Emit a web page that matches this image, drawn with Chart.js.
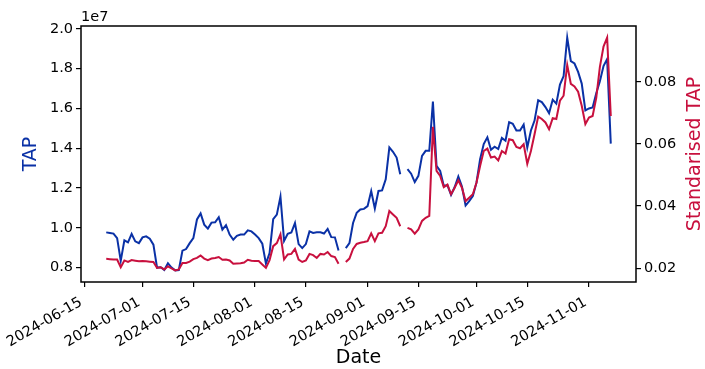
<!DOCTYPE html>
<html>
<head>
<meta charset="utf-8">
<script src="https://cdn.jsdelivr.net/npm/chart.js@4"></script>
<style>
    html, body { margin: 0; padding: 0; background: #fff; }
</style>
</head>
<body>
<canvas id="tapChart" width="705" height="369"></canvas>
<script>
// Daily series, first value is 2024-06-21; null = missing day
const firstDate = '2024-06-21';

// TAP, in units of 1e7
const tapValues = [
    0.977, 0.974, 0.971, 0.948, 0.834, 0.937, 0.927, 0.969, 0.932, 0.923,
    0.952, 0.957, 0.945, 0.915, 0.800, 0.802, 0.788, 0.822, 0.800, 0.786,
    0.788, 0.885, 0.893, 0.923, 0.948, 1.042, 1.072, 1.016, 0.996, 1.026,
    1.028, 1.053, 0.991, 1.013, 0.966, 0.940, 0.960, 0.966, 0.966, 0.987,
    0.982, 0.966, 0.948, 0.920, 0.820, 0.873, 1.043, 1.066, 1.157, 0.934,
    0.970, 0.976, 1.024, 0.918, 0.898, 0.918, 0.982, 0.974, 0.977, 0.977,
    0.971, 0.994, 0.953, 0.952, 0.886, null, 0.898, 0.923, 1.024, 1.075,
    1.092, 1.095, 1.109, 1.185, 1.097, 1.185, 1.188, 1.244, 1.404, 1.382,
    1.353, 1.269, null, 1.295, 1.272, 1.230, 1.261, 1.362, 1.387, 1.387,
    1.635, 1.311, 1.286, 1.210, 1.214, 1.165, 1.205, 1.258, 1.207, 1.112,
    1.134, 1.159, 1.227, 1.345, 1.421, 1.455, 1.392, 1.408, 1.396, 1.452,
    1.438, 1.531, 1.523, 1.489, 1.489, 1.519, 1.404, 1.489, 1.539, 1.641,
    1.632, 1.607, 1.576, 1.644, 1.624, 1.720, 1.762, 1.956, 1.838, 1.826,
    1.784, 1.725, 1.590, 1.600, 1.605, 1.676, 1.737, 1.813, 1.848, 1.423
];

// Standarised TAP
const stdTapValues = [
    0.0230, 0.0229, 0.0228, 0.0228, 0.0203, 0.0225, 0.0220, 0.0226, 0.0224, 0.0222,
    0.0223, 0.0222, 0.0221, 0.0220, 0.0201, 0.0203, 0.0196, 0.0206, 0.0199, 0.0193,
    0.0196, 0.0217, 0.0217, 0.0221, 0.0229, 0.0233, 0.0241, 0.0231, 0.0226, 0.0231,
    0.0233, 0.0236, 0.0227, 0.0228, 0.0225, 0.0214, 0.0215, 0.0216, 0.0218, 0.0227,
    0.0224, 0.0223, 0.0223, 0.0212, 0.0201, 0.0226, 0.0271, 0.0281, 0.0309, 0.0228,
    0.0244, 0.0246, 0.0262, 0.0228, 0.0220, 0.0225, 0.0246, 0.0242, 0.0233, 0.0246,
    0.0244, 0.0252, 0.0239, 0.0236, 0.0214, null, 0.0220, 0.0231, 0.0262, 0.0278,
    0.0282, 0.0284, 0.0287, 0.0312, 0.0287, 0.0312, 0.0314, 0.0335, 0.0384, 0.0373,
    0.0362, 0.0335, null, 0.0330, 0.0325, 0.0311, 0.0325, 0.0352, 0.0362, 0.0368,
    0.0655, 0.0513, 0.0497, 0.0461, 0.0469, 0.0438, 0.0459, 0.0483, 0.0459, 0.0416,
    0.0427, 0.0438, 0.0475, 0.0529, 0.0577, 0.0585, 0.0556, 0.0559, 0.0547, 0.0577,
    0.0569, 0.0615, 0.0612, 0.0590, 0.0586, 0.0599, 0.0536, 0.0577, 0.0631, 0.0688,
    0.0680, 0.0669, 0.0647, 0.0683, 0.0680, 0.0739, 0.0755, 0.0854, 0.0793, 0.0785,
    0.0768, 0.0723, 0.0664, 0.0685, 0.0690, 0.0748, 0.0848, 0.0913, 0.0942, 0.0690
];

const dateTicks = ['2024-06-15', '2024-07-01', '2024-07-15', '2024-08-01', '2024-08-15',
    '2024-09-01', '2024-09-15', '2024-10-01', '2024-10-15', '2024-11-01'];
const tapTicks = [0.8, 1.0, 1.2, 1.4, 1.6, 1.8, 2.0];
const stdTapTicks = [0.02, 0.04, 0.06, 0.08];

const BLUE = '#0a31a6';
const RED = '#c8103e';
const DAY_MS = 86400000;
const ORIGIN = Date.UTC(2024, 5, 15);

function dayOf(str) {
    const [y, m, d] = str.split('-').map(Number);
    return (Date.UTC(y, m - 1, d) - ORIGIN) / DAY_MS;
}

function dateLabel(day) {
    return new Date(ORIGIN + Math.round(day) * DAY_MS).toISOString().slice(0, 10);
}

const start = dayOf(firstDate);
const toPoints = values => values.map((v, i) => ({ x: start + i, y: v }));

// matplotlib-like 5% margins
function padRange(values) {
    const vals = values.filter(v => v !== null);
    const lo = Math.min(...vals), hi = Math.max(...vals);
    const m = (hi - lo) * 0.05;
    return [lo - m, hi + m];
}
const [xMin, xMax] = padRange([start, start + tapValues.length - 1]);
const [tapMin, tapMax] = padRange(tapValues);
const [stdMin, stdMax] = padRange(stdTapValues);

Chart.defaults.font.family = "'DejaVu Sans', sans-serif";
Chart.defaults.color = '#000';

const tickFont = { size: 14.5 };
const titleFont = { size: 19, lineHeight: 1.0 };

// frame, "1e7" offset text, right axis title (bottom-to-top) and the
// rotated date labels anchored like matplotlib's autofmt_xdate
const framePlugin = {
    id: 'frame',
    afterDraw(chart) {
        const { ctx, chartArea: a } = chart;
        ctx.save();
        ctx.strokeStyle = '#000';
        ctx.lineWidth = 1.5;
        ctx.strokeRect(a.left, a.top, a.right - a.left, a.bottom - a.top);

        ctx.fillStyle = '#000';
        ctx.font = "14.5px 'DejaVu Sans'";
        ctx.textAlign = 'left';
        ctx.textBaseline = 'bottom';
        ctx.fillText('1e7', a.left, a.top - 2);

        // date tick labels
        const xs = chart.scales.x;
        ctx.textAlign = 'right';
        ctx.textBaseline = 'alphabetic';
        xs.ticks.forEach(t => {
            const px = xs.getPixelForValue(t.value);
            ctx.save();
            ctx.translate(px - 7, a.bottom + 13);
            ctx.rotate(-Math.PI / 6);
            ctx.fillText(dateLabel(t.value), 0, 11);
            ctx.restore();
        });

        ctx.translate(chart.width - 10, (a.top + a.bottom) / 2);
        ctx.rotate(-Math.PI / 2);
        ctx.fillStyle = RED;
        ctx.font = "19px 'DejaVu Sans'";
        ctx.textAlign = 'center';
        ctx.textBaseline = 'middle';
        ctx.fillText('Standarised TAP', 0, 0);
        ctx.restore();
    }
};

const ctx = document.getElementById('tapChart').getContext('2d');
new Chart(ctx, {
    type: 'line',
    data: {
        datasets: [
            {
                label: 'Standarised TAP',
                data: toPoints(stdTapValues),
                yAxisID: 'y1',
                borderColor: RED,
                borderWidth: 2,
                pointRadius: 0,
                tension: 0,
                spanGaps: false,
                order: 0
            },
            {
                label: 'TAP',
                data: toPoints(tapValues),
                yAxisID: 'y',
                borderColor: BLUE,
                borderWidth: 2,
                pointRadius: 0,
                tension: 0,
                spanGaps: false,
                order: 1
            }
        ]
    },
    options: {
        responsive: false,
        animation: false,
        layout: { padding: { top: 26, left: 0, right: 0, bottom: 0 } },
        plugins: {
            legend: { display: false },
            tooltip: { enabled: false }
        },
        scales: {
            x: {
                type: 'linear',
                min: xMin,
                max: xMax,
                afterBuildTicks: s => { s.ticks = dateTicks.map(d => ({ value: dayOf(d) })); },
                afterFit: s => { s.height = 87; },
                ticks: { display: false, autoSkip: false },
                grid: { drawOnChartArea: false, drawTicks: true, tickLength: 5, color: '#000', lineWidth: 1.2 },
                border: { display: false },
                title: { display: true, text: 'Date', font: titleFont, padding: { top: 0, bottom: 1 } }
            },
            y: {
                position: 'left',
                min: tapMin,
                max: tapMax,
                afterBuildTicks: s => { s.ticks = tapTicks.map(v => ({ value: v })); },
                afterFit: s => { s.width = 81; },
                ticks: { padding: 3, font: tickFont, callback: v => v.toFixed(1) },
                grid: { drawOnChartArea: false, drawTicks: true, tickLength: 5, color: '#000', lineWidth: 1.2 },
                border: { display: false },
                title: { display: true, text: 'TAP', color: BLUE, font: titleFont, padding: { top: 22, bottom: 0 } }
            },
            y1: {
                position: 'right',
                min: stdMin,
                max: stdMax,
                afterBuildTicks: s => { s.ticks = stdTapTicks.map(v => ({ value: v })); },
                afterFit: s => { s.width = 69; },
                ticks: { padding: 3, font: tickFont, callback: v => v.toFixed(2) },
                grid: { drawOnChartArea: false, drawTicks: true, tickLength: 5, color: '#000', lineWidth: 1.2 },
                border: { display: false },
                title: { display: false }
            }
        }
    },
    plugins: [framePlugin]
});
</script>
</body>
</html>
